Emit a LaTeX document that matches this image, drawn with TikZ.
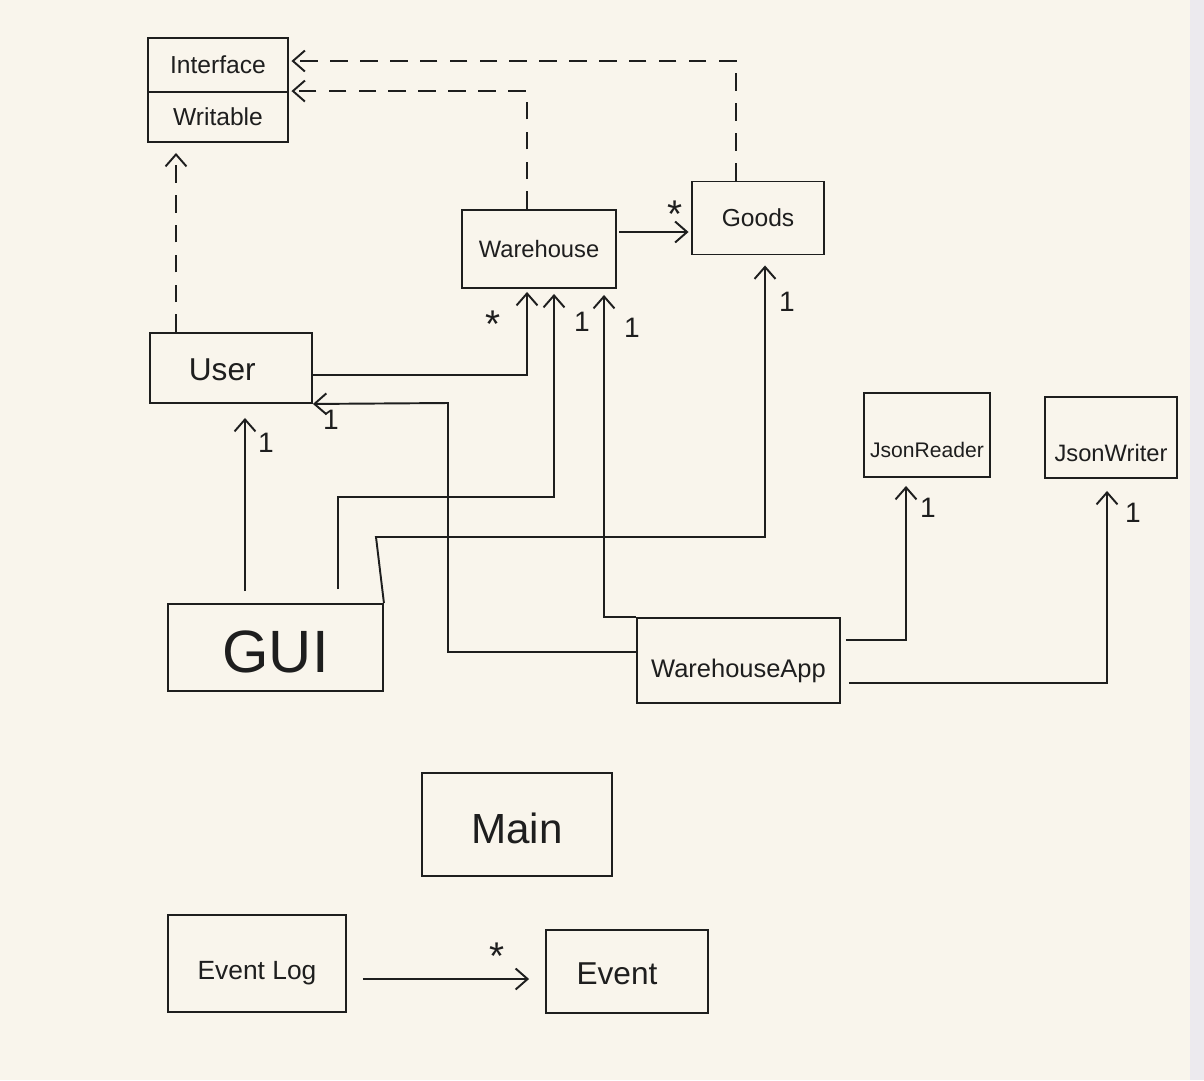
\documentclass[tikz,border=0pt]{standalone}
\usepackage{fontspec}
\setmainfont{Liberation Sans}
\usetikzlibrary{arrows.meta,calc}
\definecolor{paper}{HTML}{F9F5EC}
\definecolor{ink}{HTML}{1E1E1E}
\definecolor{sidebar}{HTML}{ECEAEE}
\newcommand{\lowered}[2]{\raisebox{-#1}[0pt][0pt]{#2}}
\begin{document}
\begin{tikzpicture}[x=0.02cm,y=-0.02cm,
  box/.style={draw=ink, line width=1.1pt, rectangle, inner sep=0pt, text=ink},
  conn/.style={draw=ink, line width=1.1pt, -{Straight Barb[length=2.4mm,width=4.2mm]}},
  dconn/.style={conn, dash pattern=on 10pt off 7pt},
  lbl/.style={text=ink, inner sep=0pt, font=\fontsize{16}{16}\selectfont},
  star/.style={text=ink, inner sep=0pt, font=\fontsize{22}{22}\selectfont}]
\fill[paper] (0,0) rectangle (1204,1080);
\fill[sidebar] (1190,0) rectangle (1204,1080);
\useasboundingbox (0,0) rectangle (1204,1080);

% helper coordinates
\coordinate (x176) at (176,0);
\coordinate (x245) at (245,0);
\coordinate (x338) at (338,0);
\coordinate (x376) at (376,0);
\coordinate (x448) at (448,0);
\coordinate (x527) at (527,0);
\coordinate (x554) at (554,0);
\coordinate (x604) at (604,0);
\coordinate (x736) at (736,0);
\coordinate (x765) at (765,0);
\coordinate (x906) at (906,0);
\coordinate (x1107) at (1107,0);
\coordinate (y232) at (0,232);
\coordinate (y375) at (0,375);
\coordinate (y403) at (0,403);
\coordinate (y497) at (0,497);
\coordinate (y537) at (0,537);
\coordinate (y640) at (0,640);
\coordinate (y652) at (0,652);
\coordinate (y683) at (0,683);
\coordinate (y979) at (0,979);
\coordinate (y60) at (0,61);

% boxes
\node[box, minimum width=2.8cm, minimum height=1.08cm, font=\fontsize{14}{14}\selectfont] (iface) at (218,65) {Interface};
\node[box, minimum width=2.8cm, minimum height=1.0cm, font=\fontsize{14}{14}\selectfont] (writ) at (218,117) {Writable};
\node[box, minimum width=3.08cm, minimum height=1.56cm, font=\fontsize{13.5}{14}\selectfont] (wh) at (539,249) {Warehouse};
\node[box, minimum width=2.64cm, minimum height=1.46cm, font=\fontsize{14}{14}\selectfont] (goods) at (758,218) {Goods};
\node[box, minimum width=3.24cm, minimum height=1.40cm, font=\fontsize{18}{18}\selectfont] (user) at (231,368) {\hspace*{-0.35cm}\lowered{0.24cm}{User}};
\node[box, minimum width=2.52cm, minimum height=1.68cm, font=\fontsize{12}{12}\selectfont] (jr) at (927,435) {\lowered{0.45cm}{JsonReader}};
\node[box, minimum width=2.64cm, minimum height=1.62cm, font=\fontsize{13.5}{14}\selectfont] (jw) at (1111,437.5) {\lowered{0.48cm}{JsonWriter}};
\node[box, minimum width=4.3cm, minimum height=1.74cm, font=\fontsize{34}{34}\selectfont] (gui) at (275.5,647.5) {\lowered{0.5cm}{GUI}};
\node[box, minimum width=4.06cm, minimum height=1.70cm, font=\fontsize{14.5}{15}\selectfont] (wapp) at (738.5,660.5) {\lowered{0.34cm}{WarehouseApp}};
\node[box, minimum width=3.8cm, minimum height=2.06cm, font=\fontsize{24}{24}\selectfont] (main) at (517,824.5) {\lowered{0.38cm}{Main}};
\node[box, minimum width=3.56cm, minimum height=1.94cm, font=\fontsize{15}{15}\selectfont] (elog) at (257,963.5) {\lowered{0.32cm}{Event Log}};
\node[box, minimum width=3.24cm, minimum height=1.66cm, font=\fontsize{18}{18}\selectfont] (event) at (627,971.5) {\hspace*{-0.4cm}\lowered{0.26cm}{Event}};

% realization (dashed)
\draw[dconn, shorten >=2mm] (user.north -| x176) -- (writ.south -| x176);
\draw[dconn, shorten >=0.5mm] (wh.north -| x527) |- (writ.north east);
\draw[dconn, shorten >=0.5mm] (goods.north -| x736) |- (iface.east |- y60);

% associations
\draw[conn, shorten <=0.5mm, shorten >=0.5mm] (wh.east |- y232) -- (goods.west |- y232);
\draw[conn, shorten >=0.6mm] (user.east |- y375) -| (wh.south -| x527);
\draw[conn, shorten <=2.8mm, shorten >=1mm] (gui.north -| x338) -- (x338 |- y497) -| (wh.south -| x554);
\draw[conn, shorten >=1.2mm] (wapp.north west) -| (wh.south -| x604);
\draw[conn, shorten >=2mm] (gui.north east) -- (x376 |- y537) -| (goods.south -| x765);
\draw[conn] (wapp.west |- y652) -| (x448 |- y403) -- (user.south east);
\draw[conn, shorten <=2.4mm, shorten >=2.8mm] (gui.north -| x245) -- (user.south -| x245);
\draw[conn, shorten <=1mm, shorten >=1.6mm] (wapp.east |- y640) -| (jr.south -| x906);
\draw[conn, shorten <=1.6mm, shorten >=2.4mm] (wapp.east |- y683) -| (jw.south -| x1107);
\draw[conn, shorten <=3.2mm, shorten >=3.2mm] (elog.east |- y979) -- (event.west |- y979);

% multiplicities
\node[star] (m1) at (675,214) {*};
\node[star] (m2) at (493,324) {*};
\node[star] (m3) at (497,956) {*};
\node[lbl] (m4) at (582,322) {1};
\node[lbl] (m5) at (632,328) {1};
\node[lbl] (m6) at (787,302) {1};
\node[lbl] (m7) at (331,420) {1};
\node[lbl] (m8) at (266,443) {1};
\node[lbl] (m9) at (928,508) {1};
\node[lbl] (m10) at (1133,513) {1};
\end{tikzpicture}
\end{document}
